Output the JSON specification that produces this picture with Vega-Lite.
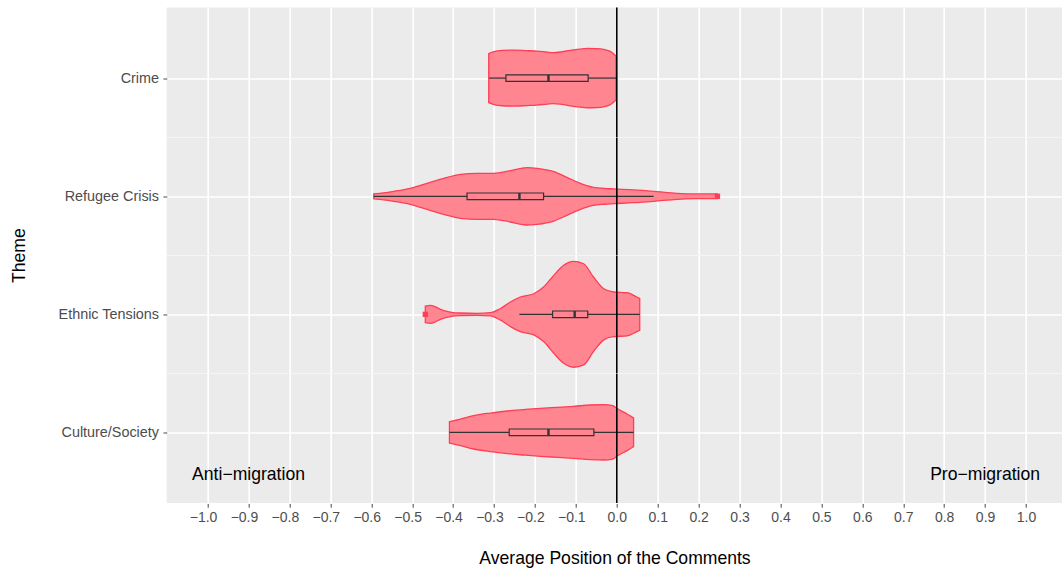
{
  "$schema": "https://vega.github.io/schema/vega-lite/v6.json",
  "background": "white",
  "padding": {"left": 9.7, "top": 6.5, "right": 0, "bottom": 0},
  "columns": 1,
  "spacing": 0,
  "align": "each",
  "bounds": "flush",
  "datasets": {
    "violin": [
      {"theme": "Crime", "value": -0.313, "width": 0.416},
      {"theme": "Crime", "value": -0.3, "width": 0.45},
      {"theme": "Crime", "value": -0.28, "width": 0.471},
      {"theme": "Crime", "value": -0.25, "width": 0.476},
      {"theme": "Crime", "value": -0.22, "width": 0.467},
      {"theme": "Crime", "value": -0.195, "width": 0.459},
      {"theme": "Crime", "value": -0.17, "width": 0.442},
      {"theme": "Crime", "value": -0.155, "width": 0.433},
      {"theme": "Crime", "value": -0.135, "width": 0.447},
      {"theme": "Crime", "value": -0.114, "width": 0.471},
      {"theme": "Crime", "value": -0.09, "width": 0.493},
      {"theme": "Crime", "value": -0.073, "width": 0.505},
      {"theme": "Crime", "value": -0.05, "width": 0.501},
      {"theme": "Crime", "value": -0.032, "width": 0.488},
      {"theme": "Crime", "value": -0.015, "width": 0.45},
      {"theme": "Crime", "value": -0.002, "width": 0.374},
      {"theme": "Refugee Crisis", "value": -0.594, "width": 0.042},
      {"theme": "Refugee Crisis", "value": -0.57, "width": 0.059},
      {"theme": "Refugee Crisis", "value": -0.545, "width": 0.085},
      {"theme": "Refugee Crisis", "value": -0.505, "width": 0.136},
      {"theme": "Refugee Crisis", "value": -0.464, "width": 0.221},
      {"theme": "Refugee Crisis", "value": -0.423, "width": 0.306},
      {"theme": "Refugee Crisis", "value": -0.382, "width": 0.374},
      {"theme": "Refugee Crisis", "value": -0.342, "width": 0.391},
      {"theme": "Refugee Crisis", "value": -0.301, "width": 0.391},
      {"theme": "Refugee Crisis", "value": -0.26, "width": 0.437},
      {"theme": "Refugee Crisis", "value": -0.219, "width": 0.488},
      {"theme": "Refugee Crisis", "value": -0.195, "width": 0.476},
      {"theme": "Refugee Crisis", "value": -0.154, "width": 0.42},
      {"theme": "Refugee Crisis", "value": -0.122, "width": 0.323},
      {"theme": "Refugee Crisis", "value": -0.089, "width": 0.221},
      {"theme": "Refugee Crisis", "value": -0.057, "width": 0.153},
      {"theme": "Refugee Crisis", "value": -0.03, "width": 0.135},
      {"theme": "Refugee Crisis", "value": -0.008, "width": 0.126},
      {"theme": "Refugee Crisis", "value": 0.041, "width": 0.109},
      {"theme": "Refugee Crisis", "value": 0.09, "width": 0.085},
      {"theme": "Refugee Crisis", "value": 0.147, "width": 0.051},
      {"theme": "Refugee Crisis", "value": 0.188, "width": 0.041},
      {"theme": "Refugee Crisis", "value": 0.237, "width": 0.041},
      {"theme": "Refugee Crisis", "value": 0.246, "width": 0.041},
      {"theme": "Ethnic Tensions", "value": -0.468, "width": 0.141},
      {"theme": "Ethnic Tensions", "value": -0.456, "width": 0.153},
      {"theme": "Ethnic Tensions", "value": -0.443, "width": 0.127},
      {"theme": "Ethnic Tensions", "value": -0.431, "width": 0.085},
      {"theme": "Ethnic Tensions", "value": -0.407, "width": 0.039},
      {"theme": "Ethnic Tensions", "value": -0.382, "width": 0.022},
      {"theme": "Ethnic Tensions", "value": -0.342, "width": 0.017},
      {"theme": "Ethnic Tensions", "value": -0.309, "width": 0.027},
      {"theme": "Ethnic Tensions", "value": -0.285, "width": 0.095},
      {"theme": "Ethnic Tensions", "value": -0.26, "width": 0.209},
      {"theme": "Ethnic Tensions", "value": -0.236, "width": 0.294},
      {"theme": "Ethnic Tensions", "value": -0.203, "width": 0.35},
      {"theme": "Ethnic Tensions", "value": -0.179, "width": 0.464},
      {"theme": "Ethnic Tensions", "value": -0.154, "width": 0.663},
      {"theme": "Ethnic Tensions", "value": -0.13, "width": 0.833},
      {"theme": "Ethnic Tensions", "value": -0.106, "width": 0.9},
      {"theme": "Ethnic Tensions", "value": -0.081, "width": 0.86},
      {"theme": "Ethnic Tensions", "value": -0.057, "width": 0.634},
      {"theme": "Ethnic Tensions", "value": -0.032, "width": 0.435},
      {"theme": "Ethnic Tensions", "value": -0.008, "width": 0.379},
      {"theme": "Ethnic Tensions", "value": 0.025, "width": 0.367},
      {"theme": "Ethnic Tensions", "value": 0.049, "width": 0.294},
      {"theme": "Ethnic Tensions", "value": 0.056, "width": 0.272},
      {"theme": "Culture/Society", "value": -0.409, "width": 0.182},
      {"theme": "Culture/Society", "value": -0.382, "width": 0.226},
      {"theme": "Culture/Society", "value": -0.35, "width": 0.284},
      {"theme": "Culture/Society", "value": -0.309, "width": 0.328},
      {"theme": "Culture/Society", "value": -0.268, "width": 0.362},
      {"theme": "Culture/Society", "value": -0.228, "width": 0.386},
      {"theme": "Culture/Society", "value": -0.187, "width": 0.408},
      {"theme": "Culture/Society", "value": -0.146, "width": 0.425},
      {"theme": "Culture/Society", "value": -0.106, "width": 0.442},
      {"theme": "Culture/Society", "value": -0.065, "width": 0.464},
      {"theme": "Culture/Society", "value": -0.032, "width": 0.471},
      {"theme": "Culture/Society", "value": -0.01, "width": 0.455},
      {"theme": "Culture/Society", "value": 0.0, "width": 0.408},
      {"theme": "Culture/Society", "value": 0.025, "width": 0.311},
      {"theme": "Culture/Society", "value": 0.041, "width": 0.243}
    ],
    "box": [
      {"theme": "Crime", "lo": -0.312, "q1": -0.271, "med": -0.167, "q3": -0.07, "hi": -0.002},
      {"theme": "Refugee Crisis", "lo": -0.594, "q1": -0.366, "med": -0.238, "q3": -0.179, "hi": 0.09},
      {"theme": "Ethnic Tensions", "lo": -0.238, "q1": -0.157, "med": -0.103, "q3": -0.071, "hi": 0.056},
      {"theme": "Culture/Society", "lo": -0.409, "q1": -0.263, "med": -0.167, "q3": -0.056, "hi": 0.041}
    ],
    "outliers": [
      {"theme": "Refugee Crisis", "value": 0.246},
      {"theme": "Ethnic Tensions", "value": -0.468}
    ],
    "notes": [
      {"theme": "Culture/Society", "value": -0.9, "label": "Anti−migration"},
      {"theme": "Culture/Society", "value": 0.9, "label": "Pro−migration"}
    ]
  },
  "concat": [
    {
      "width": 895.6,
      "height": 129.38,
      "resolve": {"axis": {"x": "independent"}},
      "layer": [
        {
          "data": {"name": "violin"},
          "transform": [{"filter": "datum.theme === 'Crime'"}],
          "mark": {"type": "area", "fill": "#FF8591", "stroke": "#FF3D55", "strokeWidth": 1.3, "interpolate": "monotone", "fillOpacity": 1},
          "encoding": {
            "x": {"field": "value", "type": "quantitative", "scale": {"domain": [-1.1, 1.0887], "nice": false, "zero": false},
              "axis": {"orient": "bottom", "values": [-1.0,-0.9,-0.8,-0.7,-0.6,-0.5,-0.4,-0.3,-0.2,-0.1,0,0.1,0.2,0.3,0.4,0.5,0.6,0.7,0.8,0.9,1.0],
                "labels": false, "ticks": false, "title": null, "gridWidth": 1.7}},
            "y": {"field": "width", "type": "quantitative", "stack": "center", "scale": {"domain": [-0.2475, 0.8525], "nice": false, "zero": false},
              "axis": {"values": [0.2525], "labelExpr": "'Crime'", "title": null, "gridWidth": 1.7, "labelPadding": 4.5}}
          }
        },
        {
          "data": {"name": "box"},
          "transform": [{"filter": "datum.theme === 'Crime'"}],
          "mark": {"type": "rule", "color": "#333333", "strokeWidth": 1.2},
          "encoding": {"x": {"field": "lo", "type": "quantitative",
              "axis": {"orient": "top", "values": [-1.05,-0.95,-0.85,-0.75,-0.65,-0.55,-0.45,-0.35,-0.25,-0.15,-0.05,0.05,0.15,0.25,0.35,0.45,0.55,0.65,0.75,0.85,0.95,1.05],
                "labels": false, "ticks": false, "title": null, "gridWidth": 1.4}},
            "x2": {"field": "q1"}, "y": {"datum": 0.2525, "type": "quantitative"}}
        },
        {
          "data": {"name": "box"},
          "transform": [{"filter": "datum.theme === 'Crime'"}],
          "mark": {"type": "rule", "color": "#333333", "strokeWidth": 1.2},
          "encoding": {"x": {"field": "q3", "type": "quantitative", "axis": null}, "x2": {"field": "hi"}, "y": {"datum": 0.2525, "type": "quantitative"}}
        },
        {
          "data": {"name": "box"},
          "transform": [{"filter": "datum.theme === 'Crime'"}],
          "mark": {"type": "rect", "fill": "transparent", "stroke": "#333333", "strokeWidth": 1.2},
          "encoding": {"x": {"field": "q1", "type": "quantitative", "axis": null}, "x2": {"field": "q3"}, "y": {"datum": 0.2245, "type": "quantitative"}, "y2": {"datum": 0.2805}}
        },
        {
          "data": {"name": "box"},
          "transform": [{"filter": "datum.theme === 'Crime'"}],
          "mark": {"type": "rule", "color": "#333333", "strokeWidth": 2.4},
          "encoding": {"x": {"field": "med", "type": "quantitative", "axis": null}, "y": {"datum": 0.2245, "type": "quantitative"}, "y2": {"datum": 0.2805}}
        },
        {
          "data": {"name": "box"},
          "transform": [{"filter": "datum.theme === 'Crime'"}],
          "mark": {"type": "rule", "color": "#000000", "strokeWidth": 1.6},
          "encoding": {"x": {"datum": 0, "type": "quantitative", "axis": null}}
        }
      ]
    },
    {
      "width": 895.6,
      "height": 117.62,
      "resolve": {"axis": {"x": "independent"}},
      "layer": [
        {
          "data": {"name": "violin"},
          "transform": [{"filter": "datum.theme === 'Refugee Crisis'"}],
          "mark": {"type": "area", "fill": "#FF8591", "stroke": "#FF3D55", "strokeWidth": 1.3, "interpolate": "monotone", "fillOpacity": 1},
          "encoding": {
            "x": {"field": "value", "type": "quantitative", "scale": {"domain": [-1.1, 1.0887], "nice": false, "zero": false},
              "axis": {"orient": "bottom", "values": [-1.0,-0.9,-0.8,-0.7,-0.6,-0.5,-0.4,-0.3,-0.2,-0.1,0,0.1,0.2,0.3,0.4,0.5,0.6,0.7,0.8,0.9,1.0],
                "labels": false, "ticks": false, "title": null, "gridWidth": 1.7}},
            "y": {"field": "width", "type": "quantitative", "stack": "center", "scale": {"domain": [-0.256, 0.744], "nice": false, "zero": false},
              "axis": {"values": [0.244], "labelExpr": "'Refugee Crisis'", "title": "Theme", "titleX": -147.1, "titleY": 117.62, "titleAngle": 270, "titleAlign": "center", "titleBaseline": "middle", "gridWidth": 1.7, "labelPadding": 4.5}}
          }
        },
        {
          "data": {"name": "box"},
          "transform": [{"filter": "datum.theme === 'Refugee Crisis'"}],
          "mark": {"type": "rule", "color": "#333333", "strokeWidth": 1.2},
          "encoding": {"x": {"field": "lo", "type": "quantitative",
              "axis": {"orient": "top", "values": [-1.05,-0.95,-0.85,-0.75,-0.65,-0.55,-0.45,-0.35,-0.25,-0.15,-0.05,0.05,0.15,0.25,0.35,0.45,0.55,0.65,0.75,0.85,0.95,1.05],
                "labels": false, "ticks": false, "title": null, "gridWidth": 1.4}},
            "x2": {"field": "q1"}, "y": {"datum": 0.244, "type": "quantitative"}}
        },
        {
          "data": {"name": "box"},
          "transform": [{"filter": "datum.theme === 'Refugee Crisis'"}],
          "mark": {"type": "rule", "color": "#333333", "strokeWidth": 1.2},
          "encoding": {"x": {"field": "q3", "type": "quantitative", "axis": null}, "x2": {"field": "hi"}, "y": {"datum": 0.244, "type": "quantitative"}}
        },
        {
          "data": {"name": "box"},
          "transform": [{"filter": "datum.theme === 'Refugee Crisis'"}],
          "mark": {"type": "rect", "fill": "transparent", "stroke": "#333333", "strokeWidth": 1.2},
          "encoding": {"x": {"field": "q1", "type": "quantitative", "axis": null}, "x2": {"field": "q3"}, "y": {"datum": 0.216, "type": "quantitative"}, "y2": {"datum": 0.272}}
        },
        {
          "data": {"name": "box"},
          "transform": [{"filter": "datum.theme === 'Refugee Crisis'"}],
          "mark": {"type": "rule", "color": "#333333", "strokeWidth": 2.4},
          "encoding": {"x": {"field": "med", "type": "quantitative", "axis": null}, "y": {"datum": 0.216, "type": "quantitative"}, "y2": {"datum": 0.272}}
        },
        {
          "data": {"name": "outliers"},
          "transform": [{"filter": "datum.theme === 'Refugee Crisis'"}],
          "mark": {"type": "point", "shape": "square", "filled": true, "size": 28, "color": "#FF3D55", "opacity": 1},
          "encoding": {"x": {"field": "value", "type": "quantitative", "axis": null}, "y": {"datum": 0.244, "type": "quantitative"}}
        },
        {
          "data": {"name": "box"},
          "transform": [{"filter": "datum.theme === 'Refugee Crisis'"}],
          "mark": {"type": "rule", "color": "#000000", "strokeWidth": 1.6},
          "encoding": {"x": {"datum": 0, "type": "quantitative", "axis": null}}
        }
      ]
    },
    {
      "width": 895.6,
      "height": 117.62,
      "resolve": {"axis": {"x": "independent"}},
      "layer": [
        {
          "data": {"name": "violin"},
          "transform": [{"filter": "datum.theme === 'Ethnic Tensions'"}],
          "mark": {"type": "area", "fill": "#FF8591", "stroke": "#FF3D55", "strokeWidth": 1.3, "interpolate": "monotone", "fillOpacity": 1},
          "encoding": {
            "x": {"field": "value", "type": "quantitative", "scale": {"domain": [-1.1, 1.0887], "nice": false, "zero": false},
              "axis": {"orient": "bottom", "values": [-1.0,-0.9,-0.8,-0.7,-0.6,-0.5,-0.4,-0.3,-0.2,-0.1,0,0.1,0.2,0.3,0.4,0.5,0.6,0.7,0.8,0.9,1.0],
                "labels": false, "ticks": false, "title": null, "gridWidth": 1.7}},
            "y": {"field": "width", "type": "quantitative", "stack": "center", "scale": {"domain": [-0.05, 0.95], "nice": false, "zero": false},
              "axis": {"values": [0.45], "labelExpr": "'Ethnic Tensions'", "title": null, "gridWidth": 1.7, "labelPadding": 4.5}}
          }
        },
        {
          "data": {"name": "box"},
          "transform": [{"filter": "datum.theme === 'Ethnic Tensions'"}],
          "mark": {"type": "rule", "color": "#333333", "strokeWidth": 1.2},
          "encoding": {"x": {"field": "lo", "type": "quantitative",
              "axis": {"orient": "top", "values": [-1.05,-0.95,-0.85,-0.75,-0.65,-0.55,-0.45,-0.35,-0.25,-0.15,-0.05,0.05,0.15,0.25,0.35,0.45,0.55,0.65,0.75,0.85,0.95,1.05],
                "labels": false, "ticks": false, "title": null, "gridWidth": 1.4}},
            "x2": {"field": "q1"}, "y": {"datum": 0.45, "type": "quantitative"}}
        },
        {
          "data": {"name": "box"},
          "transform": [{"filter": "datum.theme === 'Ethnic Tensions'"}],
          "mark": {"type": "rule", "color": "#333333", "strokeWidth": 1.2},
          "encoding": {"x": {"field": "q3", "type": "quantitative", "axis": null}, "x2": {"field": "hi"}, "y": {"datum": 0.45, "type": "quantitative"}}
        },
        {
          "data": {"name": "box"},
          "transform": [{"filter": "datum.theme === 'Ethnic Tensions'"}],
          "mark": {"type": "rect", "fill": "transparent", "stroke": "#333333", "strokeWidth": 1.2},
          "encoding": {"x": {"field": "q1", "type": "quantitative", "axis": null}, "x2": {"field": "q3"}, "y": {"datum": 0.422, "type": "quantitative"}, "y2": {"datum": 0.478}}
        },
        {
          "data": {"name": "box"},
          "transform": [{"filter": "datum.theme === 'Ethnic Tensions'"}],
          "mark": {"type": "rule", "color": "#333333", "strokeWidth": 2.4},
          "encoding": {"x": {"field": "med", "type": "quantitative", "axis": null}, "y": {"datum": 0.422, "type": "quantitative"}, "y2": {"datum": 0.478}}
        },
        {
          "data": {"name": "outliers"},
          "transform": [{"filter": "datum.theme === 'Ethnic Tensions'"}],
          "mark": {"type": "point", "shape": "square", "filled": true, "size": 28, "color": "#FF3D55", "opacity": 1},
          "encoding": {"x": {"field": "value", "type": "quantitative", "axis": null}, "y": {"datum": 0.45, "type": "quantitative"}}
        },
        {
          "data": {"name": "box"},
          "transform": [{"filter": "datum.theme === 'Ethnic Tensions'"}],
          "mark": {"type": "rule", "color": "#000000", "strokeWidth": 1.6},
          "encoding": {"x": {"datum": 0, "type": "quantitative", "axis": null}}
        }
      ]
    },
    {
      "width": 895.6,
      "height": 129.38,
      "resolve": {"axis": {"x": "independent"}},
      "layer": [
        {
          "data": {"name": "violin"},
          "transform": [{"filter": "datum.theme === 'Culture/Society'"}],
          "mark": {"type": "area", "fill": "#FF8591", "stroke": "#FF3D55", "strokeWidth": 1.3, "interpolate": "monotone", "fillOpacity": 1},
          "encoding": {
            "x": {"field": "value", "type": "quantitative", "scale": {"domain": [-1.1, 1.0887], "nice": false, "zero": false},
              "axis": {"orient": "bottom", "values": [-1.0,-0.9,-0.8,-0.7,-0.6,-0.5,-0.4,-0.3,-0.2,-0.1,0,0.1,0.2,0.3,0.4,0.5,0.6,0.7,0.8,0.9,1.0],
                "labels": false, "ticks": false, "title": null, "gridWidth": 1.7}},
            "y": {"field": "width", "type": "quantitative", "stack": "center", "scale": {"domain": [-0.3645, 0.7355], "nice": false, "zero": false},
              "axis": {"values": [0.2355], "labelExpr": "'Culture/Society'", "title": null, "gridWidth": 1.7, "labelPadding": 4.5}}
          }
        },
        {
          "data": {"name": "box"},
          "transform": [{"filter": "datum.theme === 'Culture/Society'"}],
          "mark": {"type": "rule", "color": "#333333", "strokeWidth": 1.2},
          "encoding": {"x": {"field": "lo", "type": "quantitative",
              "axis": {"orient": "top", "values": [-1.05,-0.95,-0.85,-0.75,-0.65,-0.55,-0.45,-0.35,-0.25,-0.15,-0.05,0.05,0.15,0.25,0.35,0.45,0.55,0.65,0.75,0.85,0.95,1.05],
                "labels": false, "ticks": false, "title": null, "gridWidth": 1.4}},
            "x2": {"field": "q1"}, "y": {"datum": 0.2355, "type": "quantitative"}}
        },
        {
          "data": {"name": "box"},
          "transform": [{"filter": "datum.theme === 'Culture/Society'"}],
          "mark": {"type": "rule", "color": "#333333", "strokeWidth": 1.2},
          "encoding": {"x": {"field": "q3", "type": "quantitative", "axis": null}, "x2": {"field": "hi"}, "y": {"datum": 0.2355, "type": "quantitative"}}
        },
        {
          "data": {"name": "box"},
          "transform": [{"filter": "datum.theme === 'Culture/Society'"}],
          "mark": {"type": "rect", "fill": "transparent", "stroke": "#333333", "strokeWidth": 1.2},
          "encoding": {"x": {"field": "q1", "type": "quantitative", "axis": null}, "x2": {"field": "q3"}, "y": {"datum": 0.2075, "type": "quantitative"}, "y2": {"datum": 0.2635}}
        },
        {
          "data": {"name": "box"},
          "transform": [{"filter": "datum.theme === 'Culture/Society'"}],
          "mark": {"type": "rule", "color": "#333333", "strokeWidth": 2.4},
          "encoding": {"x": {"field": "med", "type": "quantitative", "axis": null}, "y": {"datum": 0.2075, "type": "quantitative"}, "y2": {"datum": 0.2635}}
        },
        {
          "data": {"name": "box"},
          "transform": [{"filter": "datum.theme === 'Culture/Society'"}],
          "mark": {"type": "rule", "color": "#000000", "strokeWidth": 1.6},
          "encoding": {"x": {"datum": 0, "type": "quantitative", "axis": null}}
        },
        {
          "data": {"name": "notes"},
          "mark": {"type": "text", "font": "Liberation Sans", "fontSize": 17.6, "color": "#000000", "align": "center", "baseline": "middle"},
          "encoding": {"x": {"field": "value", "type": "quantitative", "axis": null}, "y": {"datum": -0.124, "type": "quantitative"}, "text": {"field": "label"}}
        }
      ]
    },
    {
      "width": 895.6,
      "height": 0.01,
      "resolve": {"axis": {"x": "independent"}},
      "layer": [
        {
          "data": {"name": "box"},
          "transform": [{"filter": "datum.theme === 'Culture/Society'"}],
          "mark": {"type": "point", "opacity": 0},
          "encoding": {
            "x": {"field": "q1", "type": "quantitative", "scale": {"domain": [-1.1, 1.0887], "nice": false, "zero": false},
              "axis": {"orient": "bottom", "offset": 0, "values": [-1.0,-0.9,-0.8,-0.7,-0.6,-0.5,-0.4,-0.3,-0.2,-0.1],
                "format": ".1f", "title": null, "labelOffset": -4.6, "grid": false,
                "labelOverlap": false, "labelFlush": false, "labelPadding": 3}},
            "y": {"datum": 0, "type": "quantitative", "scale": {"domain": [0, 1]}, "axis": null}
          }
        },
        {
          "data": {"name": "box"},
          "transform": [{"filter": "datum.theme === 'Culture/Society'"}],
          "mark": {"type": "point", "opacity": 0},
          "encoding": {
            "x": {"field": "q3", "type": "quantitative",
              "axis": {"orient": "bottom", "offset": 0, "values": [0,0.1,0.2,0.3,0.4,0.5,0.6,0.7,0.8,0.9,1.0],
                "format": ".1f", "title": "Average Position of the Comments", "grid": false,
                "labelOverlap": false, "labelFlush": false, "labelPadding": 3, "titlePadding": 25}},
            "y": {"datum": 0, "type": "quantitative", "axis": null}
          }
        }
      ]
    }
  ],
  "config": {
    "view": {"fill": "#EBEBEB", "stroke": null},
    "axis": {
      "gridColor": "#FFFFFF", "domain": false, "tickColor": "#333333", "tickWidth": 0.9, "tickSize": 3.7,
      "labelFont": "Liberation Sans", "labelFontSize": 14, "labelColor": "#4D4D4D",
      "titleFont": "Liberation Sans", "titleFontSize": 17.6, "titleFontWeight": "normal", "titleColor": "#000000"
    },
    "axisY": {"labelFontSize": 14.4},
    "text": {"font": "Liberation Sans"}
  }
}
